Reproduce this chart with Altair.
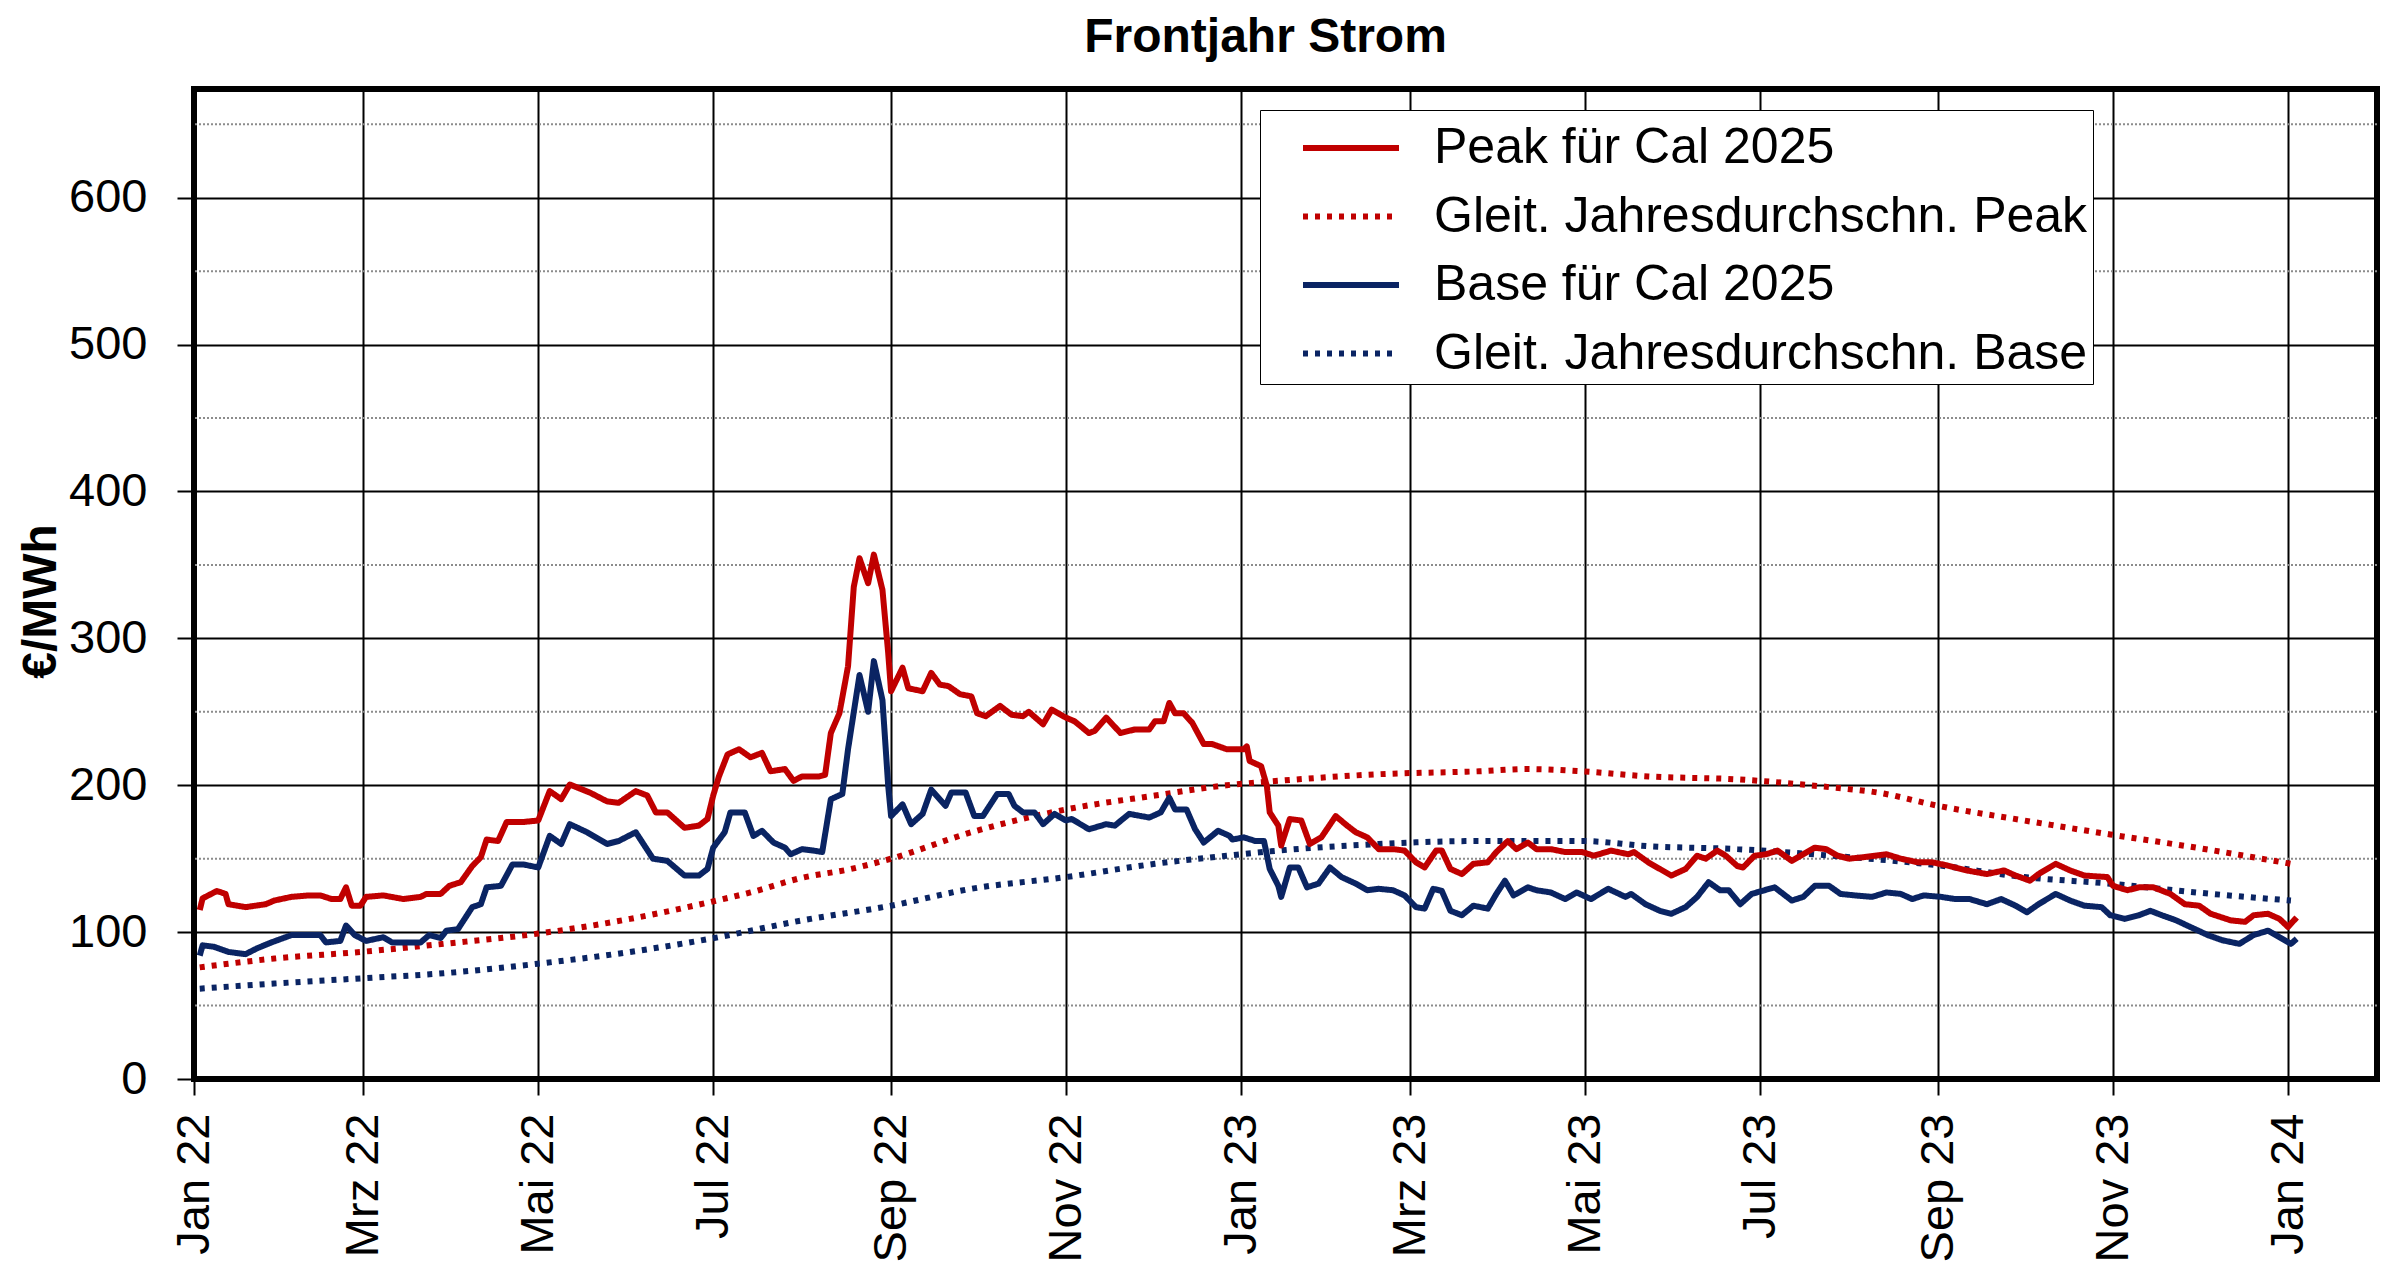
import altair as alt
import pandas as pd

TITLE = "Frontjahr Strom"
Y_TITLE = "€/MWh"
SERIES = ["Peak für Cal 2025", "Gleit. Jahresdurchschn. Peak",
          "Base für Cal 2025", "Gleit. Jahresdurchschn. Base"]
COLORS = ["#C00000", "#C00000", "#0A2463", "#0A2463"]
DASHES = [[1, 0], [5, 7], [1, 0], [5, 7]]
MONTHS_DE = ["Jan", "Feb", "Mrz", "Apr", "Mai", "Jun",
             "Jul", "Aug", "Sep", "Okt", "Nov", "Dez"]
START = "2022-01-01"   # day 0 of the day offsets below

# Peak für Cal 2025 (day offset from 1.1.2022, €/MWh)
peak_days = [2, 3, 8, 11, 12, 18, 25, 28, 34, 40, 44, 48, 51, 53, 55, 58, 60, 66, 73, 79,
             81, 86, 89, 93, 97, 100, 102, 106, 109, 115, 120, 124, 128, 131, 138, 144, 148, 154, 158, 161,
             165, 171, 176, 179, 181, 183, 186, 190, 194, 198, 201, 206, 209, 212, 218, 220, 222, 225, 228, 230,
             232, 235, 237, 240, 242, 243, 247, 249, 254, 257, 260, 263, 267, 271, 273, 276, 281, 285, 289, 291,
             296, 299, 304, 307, 312, 314, 318, 323, 328, 333, 335, 338, 340, 342, 345, 348, 352, 355, 360, 362,
             366, 367, 368, 372, 374, 375, 378, 379, 382, 386, 389, 393, 398, 402, 405, 409, 413, 418, 422, 426,
             429, 433, 435, 438, 442, 446, 451, 454, 458, 461, 465, 468, 473, 478, 484, 488, 494, 500, 502, 507,
             511, 515, 520, 524, 527, 531, 534, 538, 540, 544, 548, 552, 557, 561, 565, 569, 573, 577, 582, 590,
             595, 601, 606, 611, 618, 625, 631, 635, 640, 643, 649, 654, 659, 667, 669, 674, 678, 683, 689, 694,
             699, 703, 710, 715, 718, 723, 727, 730, 733]
peak_vals = [115, 123, 128, 126, 119, 117, 119, 121.5, 124, 125, 125, 122.5, 122.5, 130.5, 118, 118, 124, 125, 122.5, 124,
             126, 126, 131.5, 134, 145, 151, 163, 162, 175, 175, 176, 196, 190.5, 200.5, 195, 189, 188, 196, 193, 181.5,
             181.5, 171, 172.5, 177, 193, 206, 221, 224.5, 219, 222, 209.5, 211, 203, 206, 206, 207, 235.5, 249, 281, 335,
             354.5, 337.5, 357, 333, 290, 264, 280, 266, 264, 276.5, 268.5, 267.5, 262, 260.5, 249, 247, 254, 248, 247, 250,
             241.5, 251.5, 246, 243.5, 235.5, 237, 246, 235.5, 238, 238, 243.5, 243.5, 256, 249, 249, 242.5, 228, 228, 224.5, 224.5,
             224.5, 226.5, 216.5, 213, 199.5, 181.5, 172.5, 159, 177, 176, 160, 164.5, 179, 172.5, 168, 164.5, 156.5, 156.5, 155.5, 147.5,
             144, 155.5, 155.5, 143, 139.5, 146.5, 147.5, 154.5, 162, 156.5, 161, 156.5, 156.5, 154.5, 154.5, 152, 155.5, 153, 154.5, 147.5,
             143, 138.5, 143, 152, 150, 155.5, 152, 145, 144, 152, 153, 155.5, 148.5, 153, 157.5, 156.5, 152, 150, 151, 153,
             150, 147.5, 147.5, 145.5, 142, 139.5, 142, 138.5, 135, 139.5, 146.5, 142, 138.5, 137.5, 131.5, 128.5, 130.5, 130.5, 126, 119,
             118, 112.5, 108, 107, 111.5, 112.5, 109, 103.5, 110]

# Base für Cal 2025
base_days = [2, 3, 7, 12, 18, 22, 27, 34, 40, 44, 46, 51, 53, 56, 60, 66, 69, 74, 79, 82,
             86, 88, 92, 97, 100, 102, 107, 111, 115, 120, 124, 128, 131, 137, 144, 148, 154, 160, 165, 171,
             176, 179, 181, 185, 187, 192, 195, 198, 202, 206, 208, 212, 216, 219, 222, 226, 228, 232, 235, 237,
             240, 242, 243, 247, 250, 254, 257, 262, 264, 269, 272, 275, 280, 284, 286, 289, 293, 296, 300, 304,
             306, 312, 318, 321, 326, 333, 337, 340, 342, 346, 349, 352, 357, 361, 362, 366, 370, 373, 375, 378,
             379, 382, 385, 388, 392, 396, 400, 405, 409, 413, 418, 422, 426, 429, 432, 435, 438, 442, 446, 451,
             454, 457, 460, 465, 468, 473, 478, 482, 487, 493, 499, 501, 506, 511, 515, 520, 524, 528, 532, 535,
             539, 543, 551, 557, 561, 565, 570, 574, 579, 585, 590, 595, 599, 603, 609, 614, 619, 625, 630, 635,
             639, 643, 649, 654, 659, 665, 668, 673, 678, 682, 686, 691, 697, 702, 707, 713, 718, 723, 727, 731,
             733]
base_vals = [84, 91, 90, 86.5, 85, 89, 93, 98, 98, 98, 93, 94, 104.5, 98, 94, 96.5, 93, 93, 93, 98,
             96, 101, 102, 117, 119, 130.5, 131.5, 146, 146, 144, 165.5, 160, 173.5, 168, 160, 162, 168, 150, 148.5, 138.5,
             138.5, 143, 157.5, 168, 181.5, 181.5, 165.5, 169, 161, 157.5, 153, 156.5, 155.5, 154.5, 190.5, 194, 224.5, 275, 250, 284.5,
             258, 199.5, 179, 187, 173.5, 180.5, 197, 186, 195, 195, 179, 179, 194, 194, 186, 181.5, 181.5, 173.5, 180.5, 176,
             177, 170, 173.5, 172.5, 180.5, 178, 181.5, 191.5, 183.5, 183.5, 170, 161, 169, 165.5, 163, 164.5, 162, 162, 143, 131.5,
             124, 144, 144, 130.5, 133, 144, 137.5, 133, 128.5, 129.5, 128.5, 125, 117, 116, 129.5, 128, 114.5, 111.5, 118, 116,
             126, 135, 125, 130.5, 128.5, 127, 122.5, 127, 122.5, 129.5, 124, 126, 119, 114.5, 112.5, 117, 124, 134, 128.5, 128.5,
             119, 126, 130.5, 121.5, 124, 131.5, 131.5, 126, 125, 124, 127, 126, 122.5, 125, 124, 122.5, 122.5, 119, 122.5, 118,
             113.5, 119, 126, 121.5, 118, 117, 111.5, 109, 111.5, 114.5, 111.5, 108, 102.5, 98, 94.5, 92, 98, 101, 96.5, 92,
             95.5]

# Gleitender Jahresdurchschnitt Peak
peak_ma_days = [2, 28, 58, 87, 120, 152, 180, 194, 212, 229, 243, 271, 304, 335, 360,
                378, 413, 448, 465, 484, 507, 538, 571, 587, 608, 638, 668, 698, 731]
peak_ma_vals = [76, 82, 86.5, 92, 99, 109, 120.5, 127, 137, 143, 150, 168, 183.5, 193, 200,
                203, 207.5, 209.5, 211, 209.5, 206, 204, 198.5, 195, 186, 176, 166.5, 157.5, 146.5]

# Gleitender Jahresdurchschnitt Base
base_ma_days = [2, 28, 58, 87, 120, 152, 180, 212, 243, 271, 304, 335, 360,
                378, 413, 448, 484, 507, 538, 571, 608, 638, 668, 698, 731]
base_ma_vals = [61.5, 65, 68.5, 72, 78.5, 86.5, 95.5, 108, 118, 129.5, 137.5, 146.5, 152,
                155.5, 160, 162, 162, 158.5, 156.5, 152, 145.5, 137.5, 133, 127, 121.5]

MINOR_GRID = [50, 150, 250, 350, 450, 550, 650]
Y_TICKS = [0, 100, 200, 300, 400, 500, 600]


def frame(days, vals, name):
    d = pd.Timestamp(START) + pd.to_timedelta(days, unit="D")
    return pd.DataFrame({"date": d.strftime("%Y-%m-%d"), "value": vals, "series": name})


df_solid = pd.concat([frame(peak_days, peak_vals, SERIES[0]),
                      frame(base_days, base_vals, SERIES[2])])
df_ma = pd.concat([frame(peak_ma_days, peak_ma_vals, SERIES[1]),
                   frame(base_ma_days, base_ma_vals, SERIES[3])])

tick_dates = [alt.DateTime(year=y, month=m, date=1, utc=True)
              for y, m in [(2022, 1), (2022, 3), (2022, 5), (2022, 7), (2022, 9), (2022, 11),
                           (2023, 1), (2023, 3), (2023, 5), (2023, 7), (2023, 9), (2023, 11),
                           (2024, 1)]]
month_arr = "[" + ",".join("'%s'" % m for m in MONTHS_DE) + "]"
label_expr = month_arr + "[utcmonth(datum.value)] + ' ' + utcFormat(datum.value, '%y')"

FONT = "Liberation Sans"
Y_DOMAIN = [0, 674]

x_enc = alt.X(
    "date:T",
    scale=alt.Scale(type="utc",
                    domain=[alt.DateTime(year=2022, month=1, date=1, utc=True),
                            alt.DateTime(year=2024, month=2, date=1, utc=True)]),
    axis=alt.Axis(values=tick_dates, labelExpr=label_expr, title=None,
                  labelAngle=270, labelAlign="right", labelBaseline="middle",
                  labelFontSize=47, labelFont=FONT, labelColor="black",
                  labelPadding=18, labelFlush=False, labelOverlap=False,
                  tickSize=16, tickWidth=2, tickColor="black",
                  grid=True, gridColor="black", gridWidth=2, gridOpacity=1,
                  domain=False),
)
y_enc = alt.Y(
    "value:Q",
    scale=alt.Scale(domain=Y_DOMAIN, nice=False, zero=True),
    axis=alt.Axis(values=Y_TICKS, title=Y_TITLE, labelFontSize=47, labelFont=FONT,
                  labelColor="black", labelPadding=30,
                  tickSize=17, tickWidth=2, tickColor="black",
                  grid=True, gridColor="black", gridWidth=2, gridOpacity=1,
                  domain=False,
                  titleFont=FONT, titleFontSize=48, titleFontWeight="bold",
                  titleColor="black", titleAngle=270, titleX=-139, titleY=512,
                  titleAlign="center", titleBaseline="alphabetic"),
)

# long horizontal stroke as legend symbol (path units scaled by sqrt(size)/2)
legend = alt.Legend(orient="none", legendX=1066, legendY=21, title=None,
                    symbolType="M-1.6,0L1.6,0", symbolSize=3600, symbolStrokeWidth=6,
                    symbolFillColor="transparent",
                    labelFontSize=50, labelFont=FONT, labelColor="black",
                    labelLimit=2000, labelOffset=50, padding=5, symbolOffset=53,
                    rowPadding=10.5, strokeColor="black", fillColor="white")

color_enc = alt.Color("series:N", scale=alt.Scale(domain=SERIES, range=COLORS), legend=legend)
dash_enc = alt.StrokeDash("series:N", scale=alt.Scale(domain=SERIES, range=DASHES), legend=legend)

minor = alt.Chart(pd.DataFrame({"v": MINOR_GRID})).mark_rule(
    color="#8c8c8c", strokeWidth=2, strokeDash=[2, 2]
).encode(y=alt.Y("v:Q", scale=alt.Scale(domain=Y_DOMAIN, nice=False)))

ma = alt.Chart(df_ma).mark_line(strokeWidth=6, interpolate="monotone").encode(
    x=x_enc, y=y_enc, color=color_enc, strokeDash=dash_enc,
    order=alt.Order("date:T"))
solid = alt.Chart(df_solid).mark_line(strokeWidth=6, strokeJoin="round").encode(
    x=x_enc, y=y_enc, color=color_enc, strokeDash=dash_enc,
    order=alt.Order("date:T"))

chart = alt.layer(minor, ma, solid).resolve_scale(y="shared").properties(
    width=2183, height=990,
    title=alt.TitleParams(TITLE, font=FONT, fontSize=48, fontWeight="bold", color="black",
                          anchor="middle", dx=-20, offset=27),
    autosize=alt.AutoSizeParams(type="none"),
    padding={"left": 186, "top": 81, "right": 15, "bottom": 190},
    background="white",
).configure_view(stroke="black", strokeWidth=6)

chart.save("out.html", embed_options={"renderer": "svg", "actions": False})
